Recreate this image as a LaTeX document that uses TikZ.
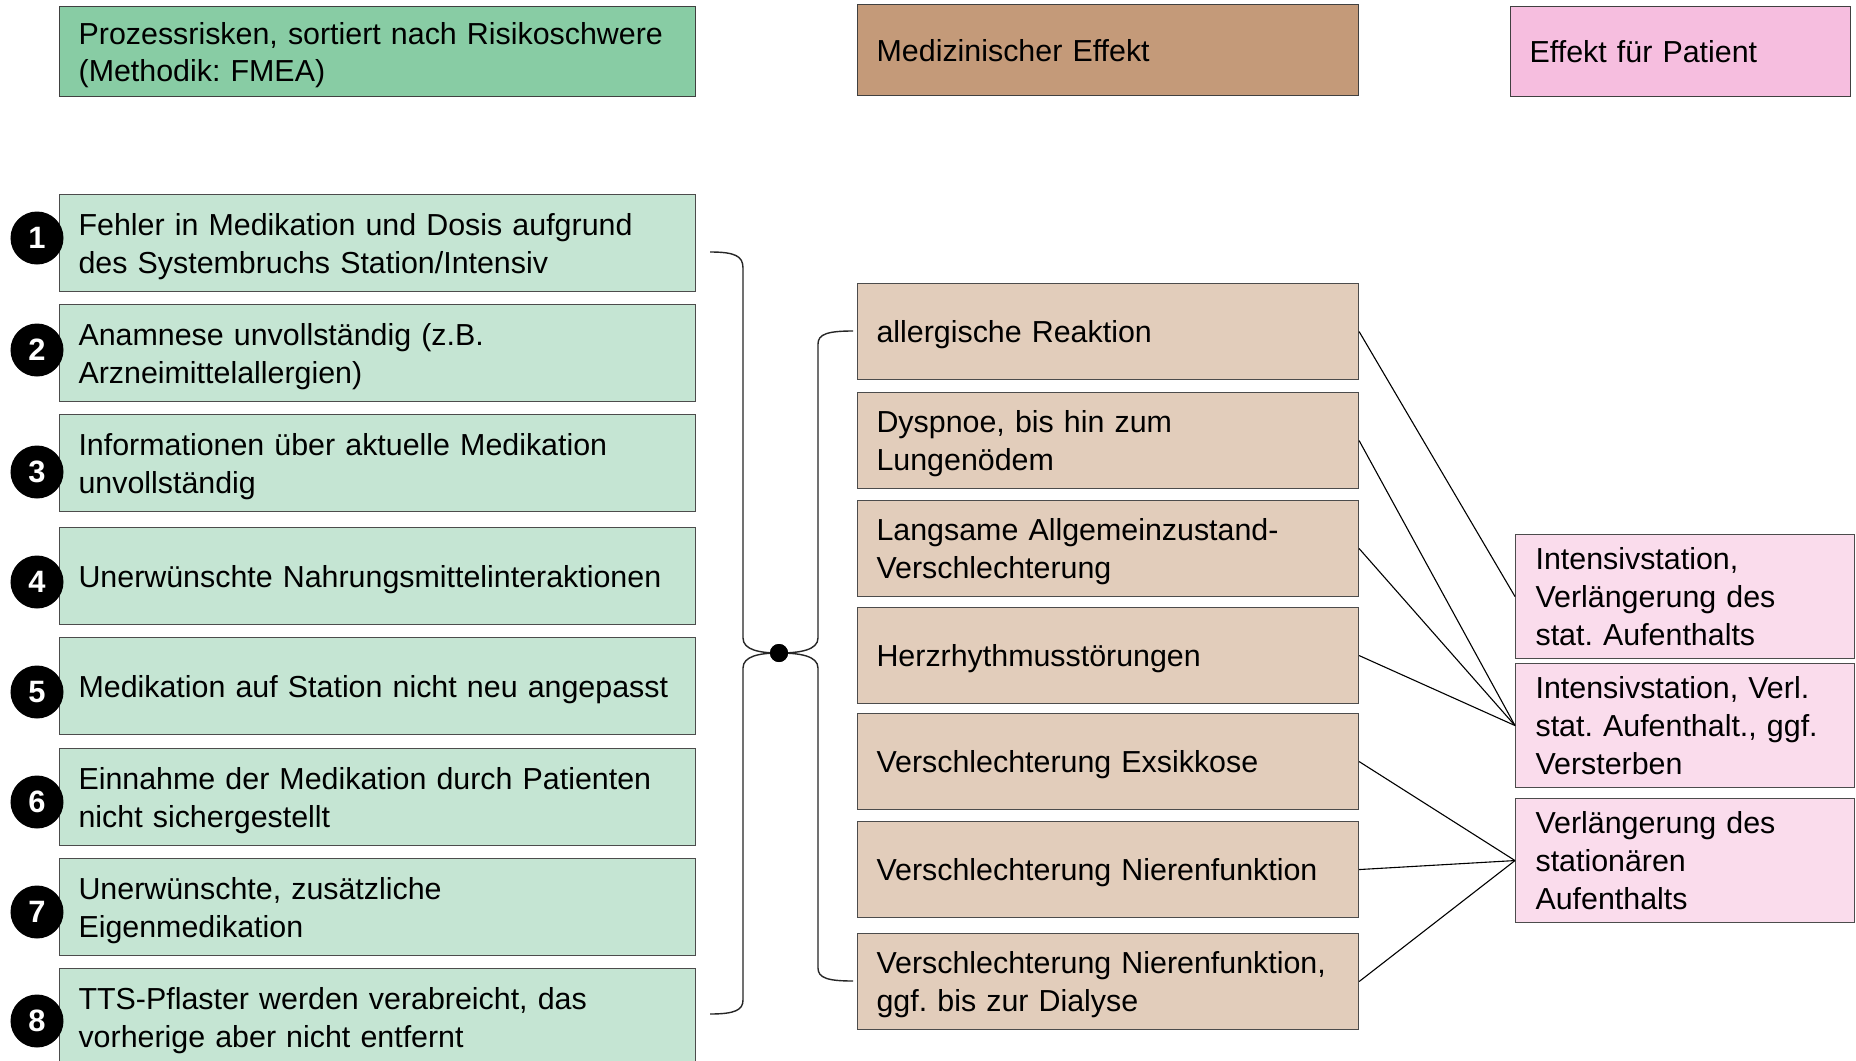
\documentclass[tikz,border=0pt]{standalone}
\usepackage{fontspec}
\setmainfont{Liberation Sans}
\frenchspacing
\definecolor{hgreen}{HTML}{88CCA4}
\definecolor{lgreen}{HTML}{C5E5D3}
\definecolor{hbrown}{HTML}{C49A79}
\definecolor{lbrown}{HTML}{E2CDBB}
\definecolor{hpink}{HTML}{F6BEDF}
\definecolor{lpink}{HTML}{FADCEC}
\begin{document}
\begin{tikzpicture}[x=1bp,y=-1bp,
  base/.style={draw=black!70, line width=1.1bp, anchor=north west, inner xsep=19bp, inner ysep=0pt, align=left, font=\fontsize{30.5}{38}\selectfont},
  lower/.style={execute at begin node={\rule{0pt}{29bp}}},
  head/.style={base, draw=black!75, line width=1.3bp},
  risk/.style={base, lower, fill=lgreen, minimum width=636bp, text width=598bp, minimum height=97bp},
  effect/.style={base, lower, fill=lbrown, minimum width=501bp, text width=463bp, minimum height=96bp},
  patient/.style={base, fill=lpink, minimum width=339bp, minimum height=124bp, inner xsep=20bp, text width=299bp},
  num/.style={circle, fill=black, text=white, minimum size=53bp, inner sep=0pt, font=\fontsize{31}{31}\selectfont\bfseries},
  brace/.style={draw=black!85, line width=1.4bp},
  conn/.style={draw=black, line width=1.1bp}
]
\fill[white] (0,0) rectangle (1856,1060);
\useasboundingbox (0,0) rectangle (1856,1060);

% headers
\node[head, lower, fill=hgreen, minimum width=636bp, text width=598bp, minimum height=90bp] (hA) at (59,6) {Prozessrisken, sortiert nach Risikoschwere\\(Methodik: FMEA)};
\node[head, fill=hbrown, minimum width=501bp, text width=463bp, minimum height=91bp] (hB) at (857,4) {Medizinischer Effekt};
\node[head, fill=hpink, minimum width=340bp, text width=302bp, minimum height=90bp] (hC) at (1510,6) {Effekt für Patient};

% risks
\node[risk] (r1) at (59,194) {Fehler in Medikation und Dosis aufgrund\\des Systembruchs Station/Intensiv};
\node[risk] (r2) at (59,304) {Anamnese unvollständig (z.B.\\Arzneimittelallergien)};
\node[risk] (r3) at (59,414) {Informationen über aktuelle Medikation\\unvollständig};
\node[risk] (r4) at (59,527) {Unerwünschte Nahrungsmittelinteraktionen};
\node[risk] (r5) at (59,637) {Medikation auf Station nicht neu angepasst};
\node[risk] (r6) at (59,748) {Einnahme der Medikation durch Patienten\\nicht sichergestellt};
\node[risk] (r7) at (59,858) {Unerwünschte, zusätzliche\\Eigenmedikation};
\node[risk] (r8) at (59,968) {TTS-Pflaster werden verabreicht, das\\vorherige aber nicht entfernt};

% numbers
\node[num] (n1) at (37,238) {1};
\node[num] (n2) at (37,350) {2};
\node[num] (n3) at (37,472) {3};
\node[num] (n4) at (37,582) {4};
\node[num] (n5) at (37,692) {5};
\node[num] (n6) at (37,802) {6};
\node[num] (n7) at (37,912) {7};
\node[num] (n8) at (37,1021) {8};

% effects
\node[effect] (e1) at (857,283) {allergische Reaktion};
\node[effect] (e2) at (857,392) {Dyspnoe, bis hin zum\\Lungenödem};
\node[effect] (e3) at (857,500) {Langsame Allgemeinzustand-\\Verschlechterung};
\node[effect] (e4) at (857,607) {Herzrhythmusstörungen};
\node[effect] (e5) at (857,713) {Verschlechterung Exsikkose};
\node[effect] (e6) at (857,821) {Verschlechterung Nierenfunktion};
\node[effect] (e7) at (857,933) {Verschlechterung Nierenfunktion,\\ggf. bis zur Dialyse};

% patient effects
\node[patient] (p1) at (1515,534) {Intensivstation,\\Verlängerung des\\stat. Aufenthalts};
\node[patient] (p2) at (1515,663) {Intensivstation, Verl.\\stat. Aufenthalt., ggf.\\Versterben};
\node[patient] (p3) at (1515,798) {Verlängerung des\\stationären\\Aufenthalts};

% hub and braces
\node[circle, fill=black, minimum size=18bp, inner sep=0pt] (hub) at (779,653) {};
\coordinate (lt) at (710,252);
\coordinate (lb) at (710,1014);
\coordinate (rt) at (853,331);
\coordinate (rb) at (853,981);
\draw[brace] (lt) .. controls (735,252) and (743,256) .. (743,268) -- (743,638) .. controls (743,650) and (760,653) .. (hub.center);
\draw[brace] (hub.center) .. controls (760,653) and (743,656) .. (743,668) -- (743,1000) .. controls (743,1010) and (735,1014) .. (lb);
\draw[brace] (rt) .. controls (828,331) and (818,334) .. (818,344) -- (818,638) .. controls (818,650) and (800,653) .. (hub.center);
\draw[brace] (hub.center) .. controls (800,653) and (818,656) .. (818,668) -- (818,968) .. controls (818,978) and (828,981) .. (rb);
\node[circle, fill=black, minimum size=18bp, inner sep=0pt] at (hub) {};

% connectors
\draw[conn] (e1.east) -- (p1.west);
\draw[conn] (e2.east) -- (p2.west);
\draw[conn] (e3.east) -- (p2.west);
\draw[conn] (e4.east) -- (p2.west);
\draw[conn] (e5.east) -- (p3.west);
\draw[conn] (e6.east) -- (p3.west);
\draw[conn] (e7.east) -- (p3.west);
\end{tikzpicture}
\end{document}
